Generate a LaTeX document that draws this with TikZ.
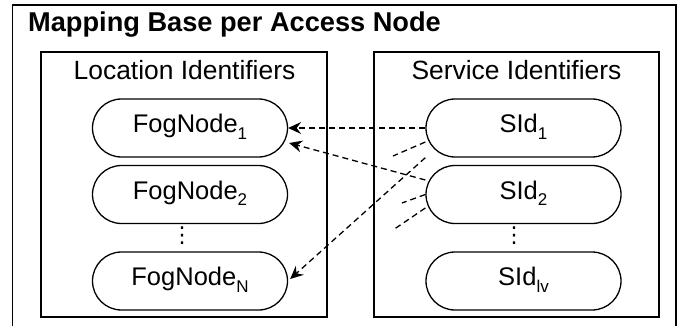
\documentclass[tikz,border=0pt]{standalone}
\usepackage{fontspec}
\setmainfont{Liberation Sans}
\newfontfamily\symfont{DejaVu Sans}
\usetikzlibrary{arrows.meta,calc}

% lowered, smaller index text
\newcommand{\idx}[1]{\raisebox{-6.5pt}{\fontsize{17}{17}\selectfont #1}}

\begin{document}
\begin{tikzpicture}[x=1pt,y=-1pt,
  frame/.style={draw, line width=1.5pt},
  pill/.style={draw, line width=1.3pt, rounded corners=29pt,
    minimum width=195pt, minimum height=58pt, inner sep=0pt,
    text height=18.5pt, text depth=9.5pt,
    font=\fontsize{25.5}{25.5}\selectfont},
  heading/.style={font=\fontsize{26.4}{26.4}\selectfont, anchor=base, inner sep=0pt},
  dotcol/.style={font=\symfont\fontsize{22}{22}\selectfont, inner sep=0pt},
  link/.style={line width=1.3pt, dash pattern=on 6pt off 4pt},
  map/.style={link, -{Stealth[length=13pt,width=12pt,inset=4.5pt]}}]

\useasboundingbox (0,0) rectangle (680,326);
\clip (0,0) rectangle (680,326);

% containers
\draw[frame] (12.5,5) rectangle (676,345);
\draw[frame] (41,52) rectangle (327,317);
\draw[frame] (374,52) rectangle (659,317);

\node[font=\bfseries\fontsize{27.2}{27.2}\selectfont, anchor=base west, inner sep=0pt]
  (title) at (28,32) {Mapping Base per Access Node};
\node[heading] (lochead) at (184.5,80) {Location Identifiers};
\node[heading] (svchead) at (516.5,80) {Service Identifiers};

% location identifiers
\node[pill] (f1) at (190,128) {FogNode\idx{1}};
\node[pill] (f2) at (190,194.5) {FogNode\idx{2}};
\node[dotcol] (fdots) at (182,236) {⋮};
\node[pill] (fN) at (190,281) {FogNode\idx{N}};

% service identifiers
\node[pill] (s1) at (523.5,128) {SId\idx{1}};
\node[pill] (s2) at (523.5,194.5) {SId\idx{2}};
\node[dotcol] (sdots) at (514,236) {⋮};
\node[pill] (sN) at (523.5,281) {SId\idx{lv}};

% mappings
\draw[map] (s1.west) -- (f1.east);
\draw[map] ($(s2.west)+(0,-14.5)$) -- ($(f1.east)+(1,15)$);
\draw[map] (s1.south west) -- ($(fN.east)+(2,-2)$);

% open-ended mappings
\coordinate (e1) at (393,156);
\coordinate (e2) at (402,203);
\coordinate (e3) at (393,230);
\draw[link] ($(s1.west)+(0,14)$) -- (e1);
\draw[link] (s2.west) -- (e2);
\draw[link] ($(s2.west)+(0,13.5)$) -- (e3);
\end{tikzpicture}
\end{document}
